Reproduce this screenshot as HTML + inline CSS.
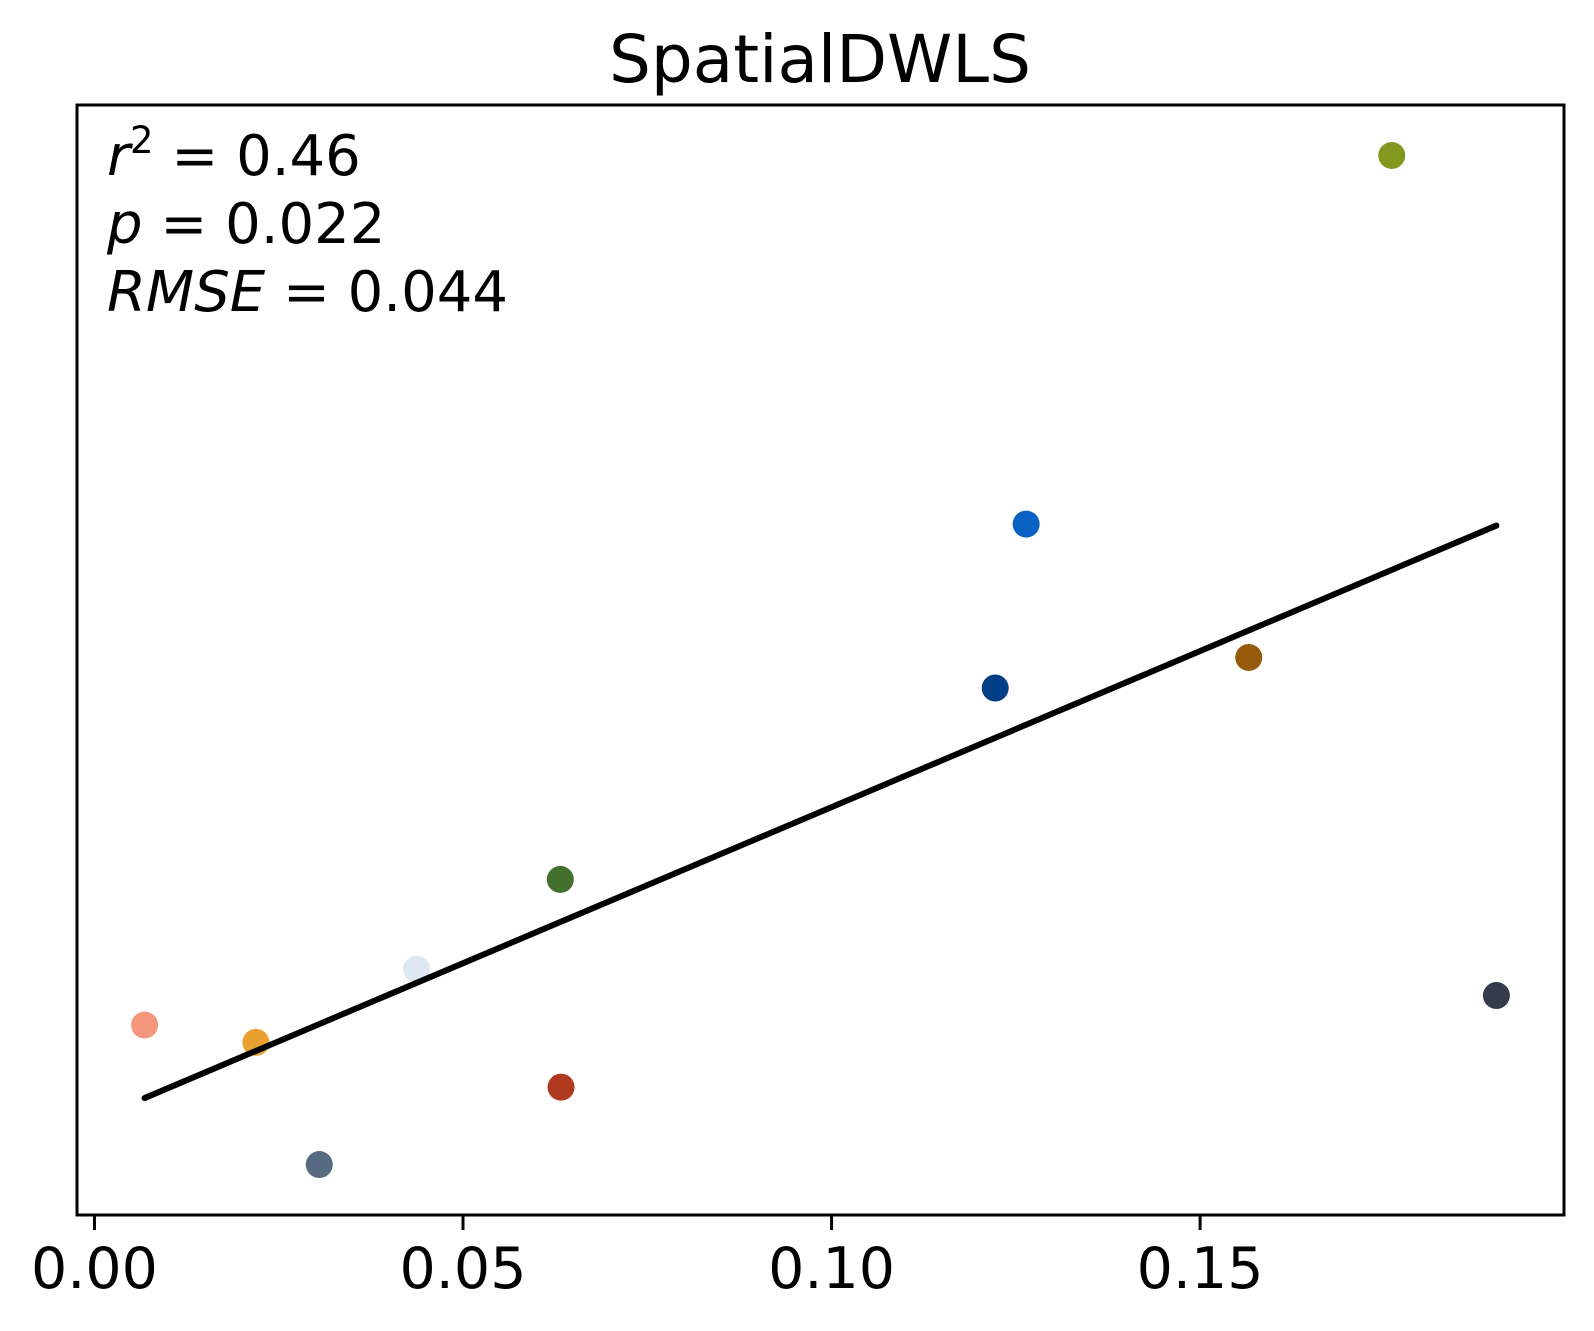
<!DOCTYPE html>
<html><head><meta charset="utf-8"><style>
html,body{margin:0;padding:0;background:#fff;}
svg{display:block;font-family:"DejaVu Sans","Liberation Sans",sans-serif;}
</style></head><body>
<svg id="chart" width="1594" height="1331" viewBox="0 0 1594 1331">
<text x="820" y="82" font-size="66" text-anchor="middle">SpatialDWLS</text>
<g font-size="56">
<text x="107" y="175"><tspan font-style="italic">r</tspan><tspan font-size="37" dy="-22">2</tspan><tspan dy="22"> = 0.46</tspan></text>
<text x="107" y="243"><tspan font-style="italic">p</tspan> = 0.022</text>
<text x="107" y="311"><tspan font-style="italic">RMSE</tspan> = 0.044</text>
</g>
<g id="marks"></g>
<g id="axes"></g>
</svg>
<script>
const xValues = [0.0068,0.0219,0.0305,0.0437,0.0632,0.0633,0.1222,0.1264,0.1566,0.1760,0.1902];
const yValues = [0.187,0.170,0.050,0.242,0.330,0.126,0.518,0.679,0.548,1.041,0.216];
const pointColors = ["#f4967d","#e8a030","#566a80","#dde8f2","#43702e","#b03a1f","#003f85","#0a63c4","#955a0a","#82981e","#323c4a"];
const xTicks = [0,0.05,0.10,0.15];
const xTickLabels = ["0.00","0.05","0.10","0.15"];

const NS="http://www.w3.org/2000/svg";
const L=77,R=1564,T=105,B=1215;
function ext(a){const mn=Math.min(...a),mx=Math.max(...a),m=(mx-mn)*0.05;return [mn-m,mx+m];}
const [x0,x1]=ext(xValues),[y0,y1]=ext(yValues);
const sx=v=>L+(v-x0)/(x1-x0)*(R-L);
const sy=v=>B-(v-y0)/(y1-y0)*(B-T);
const marks=document.getElementById('marks'),axes=document.getElementById('axes');
function mk(tag,attrs,parent){const e=document.createElementNS(NS,tag);for(const k in attrs)e.setAttribute(k,attrs[k]);parent.appendChild(e);return e;}

xValues.forEach((x,i)=>{
  const c=mk('circle',{cx:sx(x),cy:sy(yValues[i]),r:13.5,fill:pointColors[i]},marks);
  
  
});
const n=xValues.length,mx=xValues.reduce((a,b)=>a+b)/n,my=yValues.reduce((a,b)=>a+b)/n;
let sxy=0,sxx=0;xValues.forEach((x,i)=>{sxy+=(x-mx)*(yValues[i]-my);sxx+=(x-mx)**2;});
const slope=sxy/sxx,icp=my-slope*mx;
const xa=Math.min(...xValues),xb=Math.max(...xValues);
const ln=mk('line',{x1:sx(xa),y1:sy(icp+slope*xa),x2:sx(xb),y2:sy(icp+slope*xb),stroke:'#000','stroke-width':6,'stroke-linecap':'round'},marks);



const fr=mk('rect',{x:L,y:T,width:R-L,height:B-T,fill:'none',stroke:'#000','stroke-width':3},axes);


xTicks.forEach((t,i)=>{
  const tk=mk('line',{x1:sx(t),y1:B,x2:sx(t),y2:B+15,stroke:'#000','stroke-width':3},axes);
  
  
  const tx=mk('text',{x:sx(t),y:1288,'font-size':57,'text-anchor':'middle'},axes);
  tx.textContent=xTickLabels[i];
  
  
});
</script>
</body></html>
